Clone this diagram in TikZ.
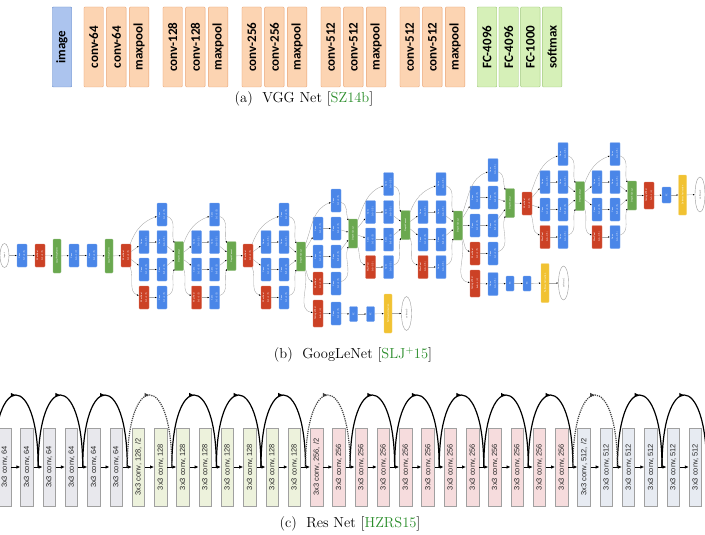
\documentclass[tikz,border=0pt]{standalone}
\usepackage{fontspec}
\usepackage{graphicx}
\usepackage{xcolor}
\usepackage{tikz}
\usetikzlibrary{arrows.meta, positioning, shapes.geometric, decorations.markings}

\newfontfamily\carlito{Carlito}
\newfontfamily\arialfont{Liberation Sans}

\definecolor{citegreen}{RGB}{40,140,40}
\definecolor{vggblue}{RGB}{172,196,238}
\definecolor{vggblueline}{RGB}{110,145,205}
\definecolor{vggorange}{RGB}{252,212,178}
\definecolor{vggorangeline}{RGB}{232,160,112}
\definecolor{vgggreen}{RGB}{214,240,184}
\definecolor{vgggreenline}{RGB}{158,200,120}
\definecolor{gblue}{RGB}{74,134,232}
\definecolor{gred}{RGB}{204,65,37}
\definecolor{ggreen}{RGB}{106,168,79}
\definecolor{gyellow}{RGB}{241,194,50}
\definecolor{resgray}{RGB}{232,232,237}
\definecolor{resgreen}{RGB}{237,242,220}
\definecolor{respink}{RGB}{246,220,221}
\definecolor{resblue}{RGB}{231,235,242}
\definecolor{resline}{RGB}{160,160,160}

% rotated labels
\newcommand{\vlab}[1]{\rotatebox{90}{#1}}
\newcommand{\glab}[1]{\rotatebox{90}{\shortstack{#1}}}

% one inception module: name, source, x of left column, four row y's, concat y
\newcommand{\inception}[8]{%
  \node[gconv] (#1t) at (#3+18,-#4) {\glab{Conv\\1x1+1(S)}};
  \node[gconv] (#1a) at (#3,-#5) {\glab{Conv\\1x1+1(S)}};
  \node[gconv] (#1b) at (#3+18,-#5) {\glab{Conv\\3x3+1(S)}};
  \node[gconv] (#1c) at (#3,-#6) {\glab{Conv\\1x1+1(S)}};
  \node[gconv] (#1d) at (#3+18,-#6) {\glab{Conv\\5x5+1(S)}};
  \node[gpool] (#1e) at (#3,-#7) {\glab{MaxPool\\3x3+1(S)}};
  \node[gconv] (#1f) at (#3+18,-#7) {\glab{Conv\\1x1+1(S)}};
  \node[gcat] (#1) at (#3+35,-#8) {\glab{DepthConcat}};
  \draw[gedge] (#2) to[out=70,in=200] (#1t);
  \draw[gedge] (#2) -- (#1a);
  \draw[gedge] (#2) -- (#1c);
  \draw[gedge] (#2) to[out=-70,in=160] (#1e);
  \draw[gedge] (#1a) -- (#1b);
  \draw[gedge] (#1c) -- (#1d);
  \draw[gedge] (#1e) -- (#1f);
  \draw[gedge] (#1t) to[out=-20,in=110] (#1);
  \draw[gedge] (#1b) -- (#1);
  \draw[gedge] (#1d) -- (#1);
  \draw[gedge] (#1f) to[out=20,in=-110] (#1);
}

\begin{document}
\begin{tikzpicture}[
    x=1pt, y=1pt,
    captext/.style={font=\fontsize{14.5}{17}\selectfont, inner sep=0pt},
    vbox/.style={
      draw,
      rounded corners=1pt,
      minimum width=19.5pt,
      minimum height=80pt,
      inner sep=0pt,
      font=\carlito\bfseries\fontsize{13}{14}\selectfont
    },
    vimg/.style={vbox, fill=vggblue, draw=vggblueline},
    vconv/.style={vbox, fill=vggorange, draw=vggorangeline},
    vfc/.style={vbox, fill=vgggreen, draw=vgggreenline},
    gbox/.style={
      rounded corners=0.8pt,
      inner sep=0pt,
      text=white,
      minimum width=10pt,
      minimum height=23pt,
      font=\sffamily\fontsize{2.3}{2.7}\selectfont
    },
    gconv/.style={gbox, fill=gblue, draw=gblue!70!white},
    gpool/.style={gbox, fill=gred, draw=gred!70!white},
    gavg/.style={gpool, minimum height=27pt},
    glrn/.style={gbox, fill=ggreen, draw=ggreen!70!white, minimum width=8pt, minimum height=34pt},
    gcat/.style={gbox, fill=ggreen, draw=ggreen!70!white, minimum width=9pt, minimum height=29pt},
    gfc/.style={gbox, fill=gblue, draw=gblue!70!white, minimum width=8pt, minimum height=15pt},
    gact/.style={gbox, fill=gyellow, draw=gyellow!70!white, minimum width=8pt, minimum height=39pt},
    gsoft/.style={
      ellipse,
      draw=black!40,
      fill=white,
      inner sep=0pt,
      minimum width=10pt,
      minimum height=34pt,
      text=black!60,
      font=\sffamily\fontsize{2.3}{2.7}\selectfont
    },
    gedge/.style={draw=black!35, line width=0.35pt, -{Latex[length=1.8pt, width=1.5pt, color=black]}},
    rbox/.style={
      draw=resline,
      line width=0.8pt,
      minimum width=12.5pt,
      minimum height=78pt,
      inner sep=0pt,
      text=black!85,
      font=\arialfont\fontsize{7.5}{9}\selectfont
    },
    rarrow/.style={-{Latex[length=4pt, width=3.5pt]}, line width=0.8pt},
    skiparc/.style={
      line width=1.2pt,
      postaction={decorate},
      decoration={markings, mark=at position 0.5 with {\arrow{Latex[length=5pt, width=4.5pt]}}}
    }
  ]

    \useasboundingbox (0,0) rectangle (705,-535);

    % (a) VGG
    \node[vimg] (img) at (62,-47) {\vlab{image}};
    \node[vconv, right=11.8pt of img] (c64a) {\vlab{conv-64}};
    \node[vconv, right=2.8pt of c64a] (c64b) {\vlab{conv-64}};
    \node[vconv, right=2.8pt of c64b] (pool1) {\vlab{maxpool}};
    \node[vconv, right=13.7pt of pool1] (c128a) {\vlab{conv-128}};
    \node[vconv, right=2.8pt of c128a] (c128b) {\vlab{conv-128}};
    \node[vconv, right=2.8pt of c128b] (pool2) {\vlab{maxpool}};
    \node[vconv, right=13.7pt of pool2] (c256a) {\vlab{conv-256}};
    \node[vconv, right=2.8pt of c256a] (c256b) {\vlab{conv-256}};
    \node[vconv, right=2.8pt of c256b] (pool3) {\vlab{maxpool}};
    \node[vconv, right=13.7pt of pool3] (c512a) {\vlab{conv-512}};
    \node[vconv, right=2.8pt of c512a] (c512b) {\vlab{conv-512}};
    \node[vconv, right=2.8pt of c512b] (pool4) {\vlab{maxpool}};
    \node[vconv, right=13.7pt of pool4] (c512c) {\vlab{conv-512}};
    \node[vconv, right=2.8pt of c512c] (c512d) {\vlab{conv-512}};
    \node[vconv, right=2.8pt of c512d] (pool5) {\vlab{maxpool}};
    \node[vfc, right=12pt of pool5] (fc1) {\vlab{FC-4096}};
    \node[vfc, right=1.8pt of fc1] (fc2) {\vlab{FC-4096}};
    \node[vfc, right=1.8pt of fc2] (fc3) {\vlab{FC-1000}};
    \node[vfc, right=1.8pt of fc3] (smax) {\vlab{softmax}};

    \node[captext] (capa) at (304,-99) {(a)~~VGG Net [\textcolor{citegreen}{SZ14b}]};

    % (b) GoogLeNet stem
    \node[gsoft, minimum width=9pt, minimum height=24pt] (in0) at (4.5,-255.5) {\glab{input}};
    \node[gconv] (s1) at (22,-255.5) {\glab{Conv\\7x7+2(S)}};
    \node[gpool] (s2) at (40,-255.5) {\glab{MaxPool\\3x3+2(S)}};
    \node[glrn] (s3) at (57,-256) {\glab{LocalRespNorm}};
    \node[gconv] (s4) at (74,-255.5) {\glab{Conv\\1x1+1(V)}};
    \node[gconv] (s5) at (92,-255.5) {\glab{Conv\\3x3+1(S)}};
    \node[glrn] (s6) at (109,-256) {\glab{LocalRespNorm}};
    \node[gpool] (s7) at (126,-255.5) {\glab{MaxPool\\3x3+2(S)}};
    \foreach \s/\t in {in0/s1, s1/s2, s2/s3, s3/s4, s4/s5, s5/s6, s6/s7}
      \draw[gedge] (\s) -- (\t);

    % inception modules
    \inception{i3a}{s7}{144}{214.5}{242}{269.5}{297.5}{256}
    \inception{i3b}{i3a}{196.5}{214.5}{242}{269.5}{297.5}{256}
    \node[gpool] (p3) at (248,-255.5) {\glab{MaxPool\\3x3+2(S)}};
    \draw[gedge] (i3b) -- (p3);
    \inception{i4a}{p3}{266}{214.5}{242}{269.5}{297.5}{256.5}
    \inception{i4b}{i4a}{318}{200.5}{228.5}{256.5}{283.5}{233.5}
    \inception{i4c}{i4b}{370.5}{184}{212}{239.5}{267}{225}
    \inception{i4d}{i4c}{423}{184}{212}{239.5}{267}{225.5}
    \inception{i4e}{i4d}{475}{170}{197.5}{225.5}{253.5}{203}
    \node[gpool] (p4) at (527,-203.5) {\glab{MaxPool\\3x3+2(S)}};
    \draw[gedge] (i4e) -- (p4);
    \inception{i5a}{p4}{545}{154}{182}{209.5}{237}{196}
    \inception{i5b}{i5a}{597}{154}{182}{209.5}{237}{195.5}

    % auxiliary classifiers
    \node[gavg] (a1p) at (318,-313.5) {\glab{AveragePool\\5x5+3(V)}};
    \node[gconv] (a1c) at (336,-313.5) {\glab{Conv\\1x1+1(S)}};
    \node[gfc] (a1f) at (353.5,-314) {\glab{FC}};
    \node[gfc] (a1g) at (370.5,-314) {\glab{FC}};
    \node[gact] (a1s) at (388,-313.5) {\glab{SoftmaxActivation}};
    \node[gsoft] (a1o) at (406.5,-313.5) {\glab{softmax0}};
    \draw[gedge] (i4a) to[out=-75,in=170] (a1p);
    \foreach \s/\t in {a1p/a1c, a1c/a1f, a1f/a1g, a1g/a1s, a1s/a1o}
      \draw[gedge] (\s) -- (\t);

    \node[gavg] (a2p) at (475,-283.5) {\glab{AveragePool\\5x5+3(V)}};
    \node[gconv] (a2c) at (493,-284) {\glab{Conv\\1x1+1(S)}};
    \node[gfc] (a2f) at (510,-283.5) {\glab{FC}};
    \node[gfc] (a2g) at (527,-283.5) {\glab{FC}};
    \node[gact] (a2s) at (545,-283) {\glab{SoftmaxActivation}};
    \node[gsoft] (a2o) at (563.5,-283) {\glab{softmax1}};
    \draw[gedge] (i4d) to[out=-75,in=170] (a2p);
    \foreach \s/\t in {a2p/a2c, a2c/a2f, a2f/a2g, a2g/a2s, a2s/a2o}
      \draw[gedge] (\s) -- (\t);

    % output classifier
    \node[gavg] (op) at (649,-195.5) {\glab{AveragePool\\7x7+1(V)}};
    \node[gfc, minimum width=9pt, minimum height=16pt] (of) at (666.5,-195) {\glab{FC}};
    \node[gact, minimum height=40pt] (os) at (682.5,-195) {\glab{SoftmaxActivation}};
    \node[gsoft, minimum height=35pt] (oo) at (700,-194.5) {\glab{softmax2}};
    \foreach \s/\t in {i5b/op, op/of, of/os, os/oo}
      \draw[gedge] (\s) -- (\t);

    \node[captext] (capb) at (353,-355) {(b)~~GoogLeNet [\textcolor{citegreen}{SLJ\textsuperscript{+}15}]};

    % (c) ResNet
    \foreach \i/\fc/\lab in {0/resgray/64, 1/resgray/64, 2/resgray/64, 3/resgray/64, 4/resgray/64, 5/resgray/64,
        6/resgreen/{128, /2}, 7/resgreen/128, 8/resgreen/128, 9/resgreen/128, 10/resgreen/128,
        11/resgreen/128, 12/resgreen/128, 13/resgreen/128,
        14/respink/{256, /2}, 15/respink/256, 16/respink/256, 17/respink/256, 18/respink/256,
        19/respink/256, 20/respink/256, 21/respink/256, 22/respink/256, 23/respink/256,
        24/respink/256, 25/respink/256,
        26/resblue/{512, /2}, 27/resblue/512, 28/resblue/512, 29/resblue/512, 30/resblue/512,
        31/resblue/512}
      \node[rbox, fill=\fc] (r\i) at (4.8+22.28*\i,-467) {\vlab{3x3 conv, \lab}};

    \foreach \i in {0,...,30} {
      \pgfmathtruncatemacro\nxt{\i+1}
      \draw[rarrow] (r\i) -- (r\nxt);
    }

    % shortcut connections
    \foreach \k in {0,...,16}
      \coordinate (jn\k) at (-6.4+44.56*\k,-467);
    \foreach \k in {1,2,3,5,6,7,9,10,11,12,13,15,16} {
      \pgfmathtruncatemacro\prv{\k-1}
      \draw[skiparc] (jn\prv) .. controls +(0,96) and +(0,96) .. (jn\k);
    }
    \foreach \k in {4,8,14} {
      \pgfmathtruncatemacro\prv{\k-1}
      \draw[skiparc, densely dotted, black!75] (jn\prv) .. controls +(0,96) and +(0,96) .. (jn\k);
    }

    \node[captext] (capc) at (350,-524) {(c)~~Res Net [\textcolor{citegreen}{HZRS15}]};

  \end{tikzpicture}
\end{document}
